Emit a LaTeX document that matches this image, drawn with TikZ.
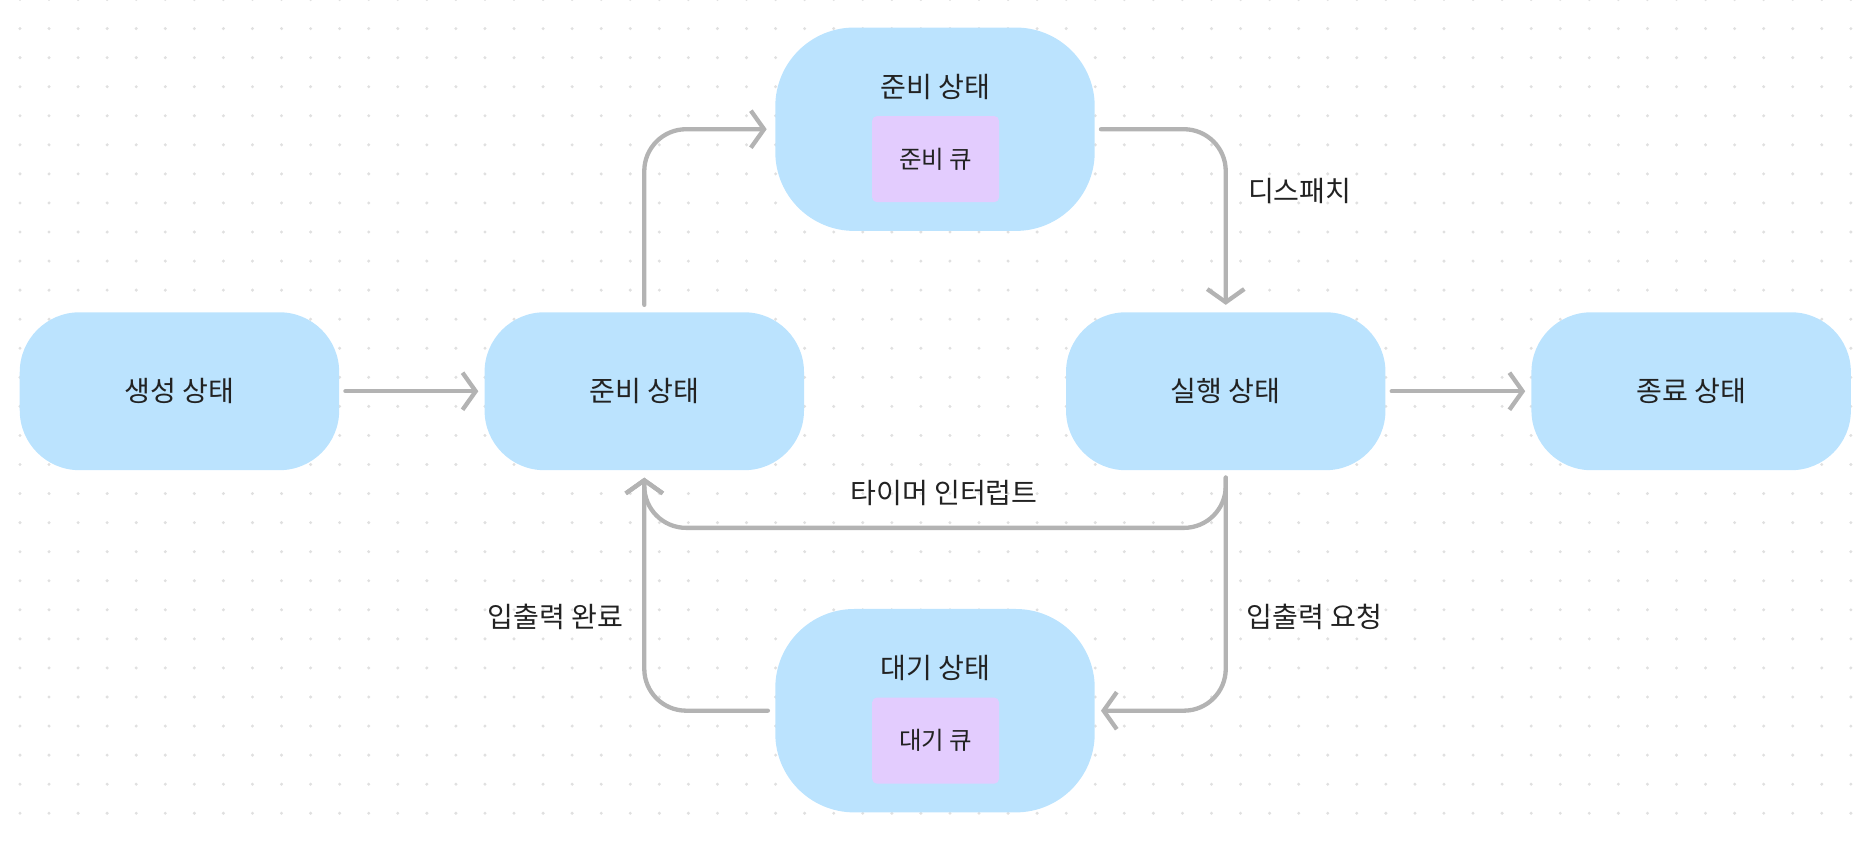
\documentclass[tikz,border=0pt]{standalone}
\usepackage{fontspec}
\setmainfont{Noto Sans CJK KR}
\usepackage{tikz}
\usetikzlibrary{arrows.meta,positioning}

\definecolor{statefill}{HTML}{BBE3FE}
\definecolor{queuefill}{HTML}{E3CCFE}
\definecolor{flowgray}{HTML}{B3B3B3}
\definecolor{dotgray}{HTML}{E0E0E0}
\definecolor{inkdark}{HTML}{222222}

\tikzset{
	state/.style={fill=statefill,rounded corners=50pt,minimum width=267pt,minimum height=132pt,text=inkdark,font=\fontsize{23.5}{28}\selectfont},
	tallstate/.style={state,rounded corners=66pt,minimum height=170pt},
	queuebox/.style={fill=queuefill,rounded corners=4pt,minimum width=106pt,minimum height=72pt,text=inkdark,font=\fontsize{20.5}{24}\selectfont},
	title/.style={text=inkdark,font=\fontsize{23.5}{28}\selectfont},
	flow/.style={draw=flowgray,line width=3.6pt,line cap=round,line join=round,rounded corners=35pt,-{Straight Barb[length=11pt,width=31pt]}},
	flowlabel/.style={text=inkdark,font=\fontsize{23.5}{28}\selectfont,inner sep=0pt}
}

\begin{document}
\begin{tikzpicture}[x=1pt,y=-1pt]
	\useasboundingbox (0,0) rectangle (1568,702.1);
	% dotted background
	\foreach \i in {0,...,63}
	\foreach \j in {0,...,28}
	\fill[dotgray] (16.7+\i*24.29,-0.4+\j*24.29) circle (1.4pt);
	%% the states
	\node[state] (create) at (150,327) {생성 상태};
	\node[state] (ready) at (538.5,327) {준비 상태};
	\node[state] (run) at (1024.5,327) {실행 상태};
	\node[state] (exit) at (1413.5,327) {종료 상태};
	\node[tallstate] (readytop) at (781.5,108) {};
	\node[title] (readytitle) at (781.5,73) {준비 상태};
	\node[queuebox] (readyq) at (782,133) {준비 큐};
	\node[tallstate] (wait) at (781.5,594) {};
	\node[title] (waittitle) at (781.5,558) {대기 상태};
	\node[queuebox] (waitq) at (782,619) {대기 큐};
	%% the transitions
	\draw[flow,shorten <=5pt,shorten >=5pt] (create) -- (ready);
	\draw[flow,shorten <=6pt,shorten >=7pt] (ready.north) |- (readytop.west);
	\draw[flow,shorten <=5pt,shorten >=6pt] (readytop.east) -| (run.north);
	\draw[flow,shorten <=5pt,shorten >=5pt] (run) -- (exit);
	\draw[flow,shorten <=6pt,shorten >=6pt] (run.south) -- ++(0,48) -| (ready.south);
	\draw[flow,shorten <=6pt,shorten >=5pt] (run.south) |- (wait.east);
	\draw[flow,shorten <=6pt,shorten >=6pt] (wait.west) -| (ready.south);
	%% the labels
	\node[flowlabel,anchor=west] (dispatch) at (1043,160) {디스패치};
	\node[flowlabel] (timer) at (789,412) {타이머 인터럽트};
	\node[flowlabel,anchor=west] (iorequest) at (1042,516) {입출력 요청};
	\node[flowlabel,anchor=east] (iodone) at (521,516) {입출력 완료};
\end{tikzpicture}
\end{document}
